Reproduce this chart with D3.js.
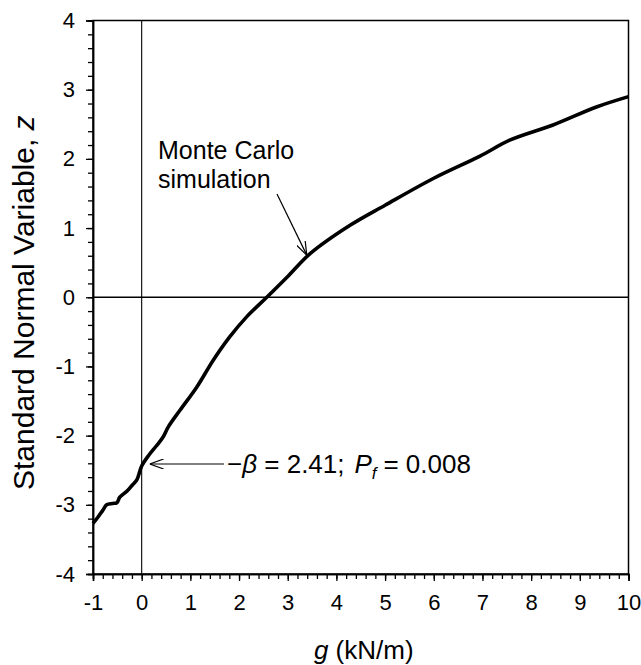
<!DOCTYPE html>
<html><head><meta charset="utf-8">
<script src="https://cdn.jsdelivr.net/npm/d3@7"></script>
<style>
body{margin:0;background:#fff;}
svg{display:block;font-family:"Liberation Sans",Arial,sans-serif;}
</style></head><body>
<script>
const gValues = [-1.00,-0.90,-0.80,-0.72,-0.60,-0.51,-0.45,-0.30,-0.20,-0.10,0.00,0.15,0.30,0.44,0.55,0.79,1.13,1.47,1.80,2.16,2.57,3.00,3.46,4.28,5.00,6.00,6.95,7.56,8.45,9.34,10.00];
const zValues = [-3.27,-3.18,-3.08,-3.00,-2.98,-2.97,-2.89,-2.80,-2.72,-2.64,-2.44,-2.28,-2.15,-2.02,-1.87,-1.63,-1.30,-0.91,-0.58,-0.28,0.00,0.30,0.63,1.04,1.33,1.72,2.04,2.27,2.49,2.75,2.90];
const xTicks = [-1,0,1,2,3,4,5,6,7,8,9,10];
const yTicks = [-4,-3,-2,-1,0,1,2,3,4];
const betaValue = "2.41", pfValue = "0.008";

const W=641,H=665;
const m={left:93,right:641-628.5,top:20.5,bottom:665-574};
const svg=d3.select("body").append("svg").attr("width",W).attr("height",H);
const x=d3.scaleLinear().domain([-1,10]).range([m.left,W-m.right]);
const y=d3.scaleLinear().domain([-4,4]).range([H-m.bottom,m.top]);
const fmt=d=>String(d);

svg.append("rect").attr("x",x(-1)).attr("y",y(4)).attr("width",x(10)-x(-1)).attr("height",y(-4)-y(4))
  .attr("fill","none").attr("stroke","#000").attr("stroke-width",1.5);

svg.append("line").attr("x1",x(0)).attr("x2",x(0)).attr("y1",y(4)).attr("y2",y(-4)).attr("stroke","#000").attr("stroke-width",1.1);
svg.append("line").attr("x1",x(-1)).attr("x2",x(10)).attr("y1",y(0)).attr("y2",y(0)).attr("stroke","#000").attr("stroke-width",1.5);

function styleAxis(g){g.select(".domain").attr("stroke-width",1.5);g.selectAll(".tick line").attr("stroke-width",1.3);}
svg.append("g").attr("transform",`translate(0,${y(-4)})`)
  .call(d3.axisBottom(x).tickValues(d3.range(-1,10.001,0.2)).tickSize(5).tickFormat("")).call(styleAxis);
svg.append("g").attr("transform",`translate(${x(-1)},0)`)
  .call(d3.axisLeft(y).tickValues(d3.range(-4,4.001,0.2)).tickSize(5).tickFormat("")).call(styleAxis);
const xa=svg.append("g").attr("transform",`translate(0,${y(-4)})`)
  .call(d3.axisBottom(x).tickValues(xTicks).tickSize(7).tickPadding(13).tickFormat(fmt)).call(styleAxis);
xa.selectAll("text").attr("font-size",22).attr("fill","#000").attr("font-family","Liberation Sans, Arial");
const ya=svg.append("g").attr("transform",`translate(${x(-1)},0)`)
  .call(d3.axisLeft(y).tickValues(yTicks).tickSize(7).tickPadding(11).tickFormat(fmt)).call(styleAxis);
ya.selectAll("text").attr("font-size",22).attr("fill","#000").attr("font-family","Liberation Sans, Arial");

const line=d3.line().x((d,i)=>x(gValues[i])).y((d,i)=>y(zValues[i])).curve(d3.curveCatmullRom.alpha(0.5));
svg.append("path").datum(zValues).attr("d",line).attr("fill","none").attr("stroke","#000").attr("stroke-width",3.6).attr("stroke-linejoin","round");

svg.append("defs").append("marker").attr("id","arr").attr("viewBox","0 0 14 10").attr("refX",14).attr("refY",5)
  .attr("markerWidth",14).attr("markerHeight",10).attr("markerUnits","userSpaceOnUse").attr("orient","auto")
  .append("path").attr("d","M0,0 L14,5 L0,10").attr("fill","none").attr("stroke","#000").attr("stroke-width",1.2);

const mc=svg.append("text").attr("font-size",25).attr("fill","#000");
mc.append("tspan").attr("x",158).attr("y",159).text("Monte Carlo");
mc.append("tspan").attr("x",158).attr("y",188).text("simulation");
svg.append("line").attr("x1",277).attr("y1",194).attr("x2",x(3.35)+2).attr("y2",y(0.58)-2)
  .attr("stroke","#000").attr("stroke-width",1.2).attr("marker-end","url(#arr)");

svg.append("line").attr("x1",224).attr("y1",y(-2.41)).attr("x2",x(0)+8).attr("y2",y(-2.41))
  .attr("stroke","#000").attr("stroke-width",1.2).attr("marker-end","url(#arr)");
const bt=svg.append("text").attr("x",227).attr("y",y(-2.41)+9).attr("font-size",26).attr("fill","#000");
bt.append("tspan").text("\u2212");
bt.append("tspan").attr("font-style","italic").text("\u03B2");
bt.append("tspan").text(" = "+betaValue+";");
bt.append("tspan").attr("dx",10).attr("font-style","italic").text("P");
bt.append("tspan").attr("font-style","italic").attr("font-size",17).attr("dy",6).text("f");
bt.append("tspan").attr("dy",-6).attr("dx",7).text("=");
bt.append("tspan").attr("dx",7).text(pfValue);

const xt=svg.append("text").attr("x",(x(-1)+x(10))/2+3).attr("y",659).attr("text-anchor","middle").attr("font-size",26).attr("fill","#000");
xt.append("tspan").attr("font-style","italic").text("g");
xt.append("tspan").text(" (kN/m)");
const yt=svg.append("text").attr("transform",`translate(34,490) rotate(-90)`).attr("text-anchor","start").attr("font-size",30).attr("fill","#000");
yt.append("tspan").text("Standard Normal Variable, ");
yt.append("tspan").attr("font-style","italic").text("z");
</script>
</body></html>
